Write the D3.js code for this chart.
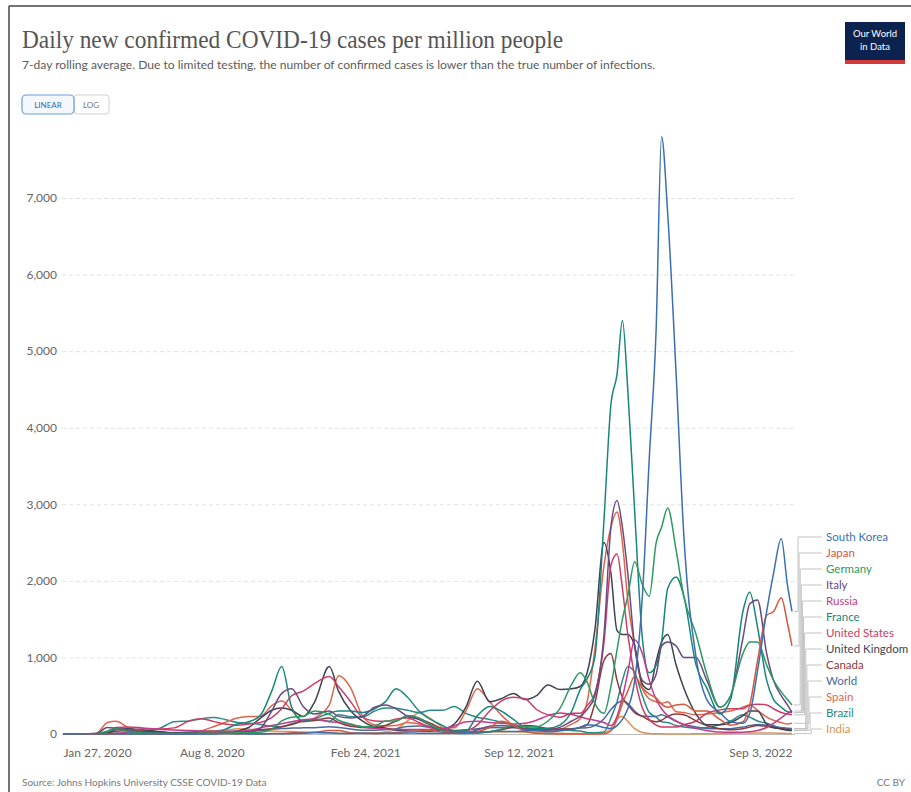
<!DOCTYPE html>
<html><head><meta charset="utf-8">
<script src="https://cdn.jsdelivr.net/npm/d3@7"></script>
<style>
html,body{margin:0;padding:0;background:#fff;}
svg{display:block;}
</style></head>
<body>
<svg id="chart" width="911" height="792"></svg>
<script>
const dates = [
"2020-01-27","2020-02-20","2020-03-10","2020-03-25","2020-04-05","2020-04-20","2020-05-10","2020-06-01","2020-06-20","2020-07-10","2020-07-25","2020-08-10","2020-08-25","2020-09-10","2020-09-25","2020-10-10","2020-10-25","2020-11-07","2020-11-20","2020-12-05","2020-12-20",
"2021-01-08","2021-01-20","2021-02-05","2021-02-20","2021-03-08","2021-03-22","2021-04-05","2021-04-20","2021-05-05","2021-05-20","2021-06-05","2021-06-20","2021-07-05","2021-07-20","2021-08-05","2021-08-20","2021-09-05","2021-09-20","2021-10-05","2021-10-20","2021-11-05","2021-11-20","2021-12-01","2021-12-10","2021-12-20",
"2022-01-01","2022-01-10","2022-01-18","2022-01-25","2022-02-01","2022-02-10","2022-02-20","2022-03-01","2022-03-10","2022-03-17","2022-03-25","2022-04-05","2022-04-15","2022-05-01","2022-05-15","2022-06-01","2022-06-15","2022-07-01","2022-07-10","2022-07-20","2022-08-01","2022-08-10","2022-08-20","2022-08-28","2022-09-03"];

const southKorea = [0,0.5,4.5,1.8,1.8,0.4,0.3,0.7,0.8,0.9,0.8,0.6,5,3,1.5,1.3,1.7,2,5,10,18,
 15,8,8,9,8,8.5,10,12,11,11,11,9,15,28,30,35,32,40,45,28,42,60,90,120,115,
 85,70,110,190,330,700,1800,3600,5300,7800,6800,4700,2600,1000,450,280,160,140,270,820,1600,2100,2550,1950,1600];
const japan = [0,0.1,0.3,0.5,2,3.5,1,0.3,0.5,2,6,9,7,4.5,4,4,5,7,15,17,22,
 45,45,18,9,8,10,18,30,40,45,22,12,15,30,85,165,115,35,10,3,1.5,1,1,1,1.5,
 4,40,190,400,560,750,600,520,470,390,350,380,390,300,300,190,115,160,380,950,1550,1600,1780,1450,1150];
const germany = [0,0,2,40,70,35,13,6,5,5,5,9,13,17,16,22,60,170,220,230,300,
 260,180,130,95,100,170,170,240,210,120,45,10,7,15,30,65,115,95,95,170,340,650,800,680,400,
 270,620,1100,1500,1800,2250,1950,1800,2500,2700,2950,2400,1800,1300,780,350,500,1050,1200,1200,900,700,550,450,380];
const italy = [0,0,5,85,75,55,20,6,4,3,4,6,15,23,25,75,300,530,590,360,260,
 300,230,210,230,350,380,330,230,190,110,40,20,15,55,100,110,95,70,55,55,90,170,230,320,500,
 1300,2700,3050,2700,2100,1150,700,650,780,1150,1200,1150,1000,1000,700,350,500,1250,1700,1750,1050,700,500,380,280];
const russia = [0,0,0,0.5,5,30,70,60,52,45,40,35,33,35,45,80,110,135,160,185,195,
 160,150,120,95,75,65,60,60,60,60,65,105,160,165,150,140,130,140,180,240,275,255,225,200,180,
 150,110,230,480,800,1230,1050,700,450,330,240,170,120,70,45,25,22,22,28,45,85,140,210,270,300];
const france = [0,0,5,30,70,50,15,6,8,8,10,25,60,130,160,240,560,880,350,170,200,
 270,300,300,280,330,420,590,480,300,190,110,40,40,240,360,300,190,90,70,75,120,300,580,720,1000,
 2800,4300,4700,5400,4500,2900,1250,800,900,1200,1900,2050,1800,900,600,260,450,1600,1850,1400,700,450,350,290,280];
const unitedStates = [0,0,0.3,30,85,90,80,65,80,175,200,165,130,115,130,150,215,330,500,560,660,
 750,620,420,220,170,165,195,210,150,90,45,35,40,120,300,430,480,460,320,250,220,270,270,370,530,
 1200,2200,2350,1900,1300,750,340,190,115,90,90,90,120,170,270,315,330,330,380,390,380,330,280,260,250];
const unitedKingdom = [0,0,1,10,60,70,55,30,15,9,10,12,17,40,85,205,310,340,310,230,420,
 880,560,300,170,95,80,50,38,35,35,60,130,350,690,420,460,530,450,500,640,580,590,620,800,1350,
 2500,2100,1350,1300,1300,1150,650,580,950,1200,1300,900,600,260,120,120,150,240,300,300,130,85,65,50,45];
const canada = [0,0,1,15,35,45,35,28,10,8,10,11,10,15,28,55,70,95,125,165,175,
 210,150,100,85,80,110,170,230,200,140,60,25,12,12,30,55,90,110,100,70,65,65,85,120,400,
 960,1050,700,480,380,280,230,180,160,180,230,260,250,170,110,70,55,70,90,110,100,80,70,60,50];
const world = [0,0.2,0.6,4,10,10.5,11,13,19,25,32,34,34,36,40,47,61,72,77,80,82,
 94,85,64,50,50,57,70,98,103,82,56,47,55,70,82,85,80,65,56,52,58,70,78,82,110,
 200,320,400,430,400,300,235,230,230,250,220,165,125,92,72,68,70,90,110,123,115,95,85,75,72];
const spain = [0,0,7,150,165,90,28,8,7,9,40,95,150,210,230,230,370,430,310,160,210,
 380,760,600,240,120,105,110,150,130,90,80,80,300,590,420,250,110,55,40,40,60,130,200,420,1100,
 2200,2700,2900,2500,1750,1150,600,460,420,400,420,290,280,250,260,280,300,350,380,310,220,180,150,130,140];
const brazil = [0,0,0,1,5,11,35,75,160,170,200,215,190,150,140,125,100,95,135,170,185,
 165,250,225,220,300,340,335,310,280,310,310,360,270,220,190,155,120,70,80,65,55,45,40,20,15,
 25,210,420,700,880,800,500,280,220,160,150,110,90,75,85,120,170,250,220,170,140,110,75,60,50];
const india = [0,0,0,0.05,0.4,1,2.6,5.6,10,18,32,44,47,68,62,53,38,33,32,26,18,
 13,10,9,9,12,27,60,170,275,200,85,42,32,28,30,26,30,23,16,11,9,7,6,6,5,
 12,80,200,230,165,70,20,8,4,2,1.2,0.9,0.8,2,2,3,7,12,13,14,14,12,9,7,5];

const seriesNames = ["South Korea","Japan","Germany","Italy","Russia","France","United States","United Kingdom","Canada","World","Spain","Brazil","India"];
const seriesValues = [southKorea,japan,germany,italy,russia,france,unitedStates,unitedKingdom,canada,world,spain,brazil,india];
const seriesColors = ["#3b6fb2","#d6573d","#2c9a62","#6a4a80","#c23b8c","#17877d","#cc3d64","#3d4352","#8a3a3a","#4c6a9c","#e0654e","#2e8a86","#d9955a"];

const yTicks = [0,1000,2000,3000,4000,5000,6000,7000];
const xTicks = ["2020-01-27","2020-08-08","2021-02-24","2021-09-12","2022-09-03"];

const parse = d3.timeParse("%Y-%m-%d");
const svg = d3.select("#chart");

// frame
svg.append("line").attr("x1",9).attr("x2",911).attr("y1",6).attr("y2",6).attr("stroke","#444").attr("stroke-width",1.5);
svg.append("line").attr("x1",9).attr("x2",9).attr("y1",6).attr("y2",792).attr("stroke","#444").attr("stroke-width",1.5);

// title
svg.append("text").attr("x",22).attr("y",48)
  .attr("font-family","'Liberation Serif','DejaVu Serif',serif").attr("font-size",26)
  .attr("fill","#555").attr("textLength",541).attr("lengthAdjust","spacingAndGlyphs")
  .text("Daily new confirmed COVID-19 cases per million people");
svg.append("text").attr("x",22).attr("y",69)
  .attr("font-family","Lato,sans-serif").attr("font-size",11).attr("fill","#5b5b5b")
  .attr("textLength",633).attr("lengthAdjust","spacingAndGlyphs")
  .text("7-day rolling average. Due to limited testing, the number of confirmed cases is lower than the true number of infections.");

// toggle
svg.append("rect").attr("x",74).attr("y",95).attr("width",35).attr("height",19).attr("rx",3)
  .attr("fill","#fff").attr("stroke","#d0d0d0");
svg.append("rect").attr("x",22).attr("y",95).attr("width",52).attr("height",19).attr("rx",4)
  .attr("fill","#f4f8fd").attr("stroke","#6a9fd8").attr("stroke-width",1.2);
svg.append("text").attr("x",48).attr("y",107.5).attr("text-anchor","middle")
  .attr("font-family","Lato,sans-serif").attr("font-size",8).attr("fill","#2e6bb5").text("LINEAR");
svg.append("text").attr("x",91).attr("y",107.5).attr("text-anchor","middle")
  .attr("font-family","Lato,sans-serif").attr("font-size",8).attr("fill","#777").text("LOG");

// logo
svg.append("rect").attr("x",845).attr("y",22).attr("width",60).attr("height",42).attr("fill","#0c2350");
svg.append("rect").attr("x",845).attr("y",60).attr("width",60).attr("height",4).attr("fill","#d43a3a");
svg.append("text").attr("x",875).attr("y",37).attr("text-anchor","middle").attr("font-family","Lato,sans-serif")
  .attr("font-size",9.5).attr("fill","#fff").text("Our World");
svg.append("text").attr("x",875).attr("y",50).attr("text-anchor","middle").attr("font-family","Lato,sans-serif")
  .attr("font-size",9.5).attr("fill","#fff").text("in Data");

// scales
const x = d3.scaleTime().domain([parse("2020-01-27"), parse("2022-09-03")]).range([63, 792]);
const y = d3.scaleLinear().domain([0, 7000]).range([734, 198]);

// y axis with grid
const yAxis = d3.axisLeft(y).tickValues(yTicks).tickFormat(d3.format(",")).tickSize(-(795-62)).tickPadding(5);
const gy = svg.append("g").attr("transform","translate(62,0)").call(yAxis);
gy.select(".domain").remove();
gy.selectAll(".tick line").attr("stroke","#e2e2e2").attr("stroke-dasharray","4,3");
gy.selectAll(".tick line").filter(d=>d===0).attr("stroke","#bbb").attr("stroke-dasharray",null);
gy.selectAll(".tick text").attr("font-family","Lato,sans-serif").attr("font-size",12).attr("fill","#666");

// x axis
const fmt = d3.timeFormat("%b %-d, %Y");
const xAxis = d3.axisBottom(x).tickValues(xTicks.map(parse)).tickFormat(fmt).tickSize(0).tickPadding(14);
const gx = svg.append("g").attr("transform","translate(0,734)").call(xAxis);
gx.select(".domain").remove();
gx.selectAll(".tick text").attr("font-family","Lato,sans-serif").attr("font-size",12).attr("fill","#666");
gx.selectAll(".tick text").filter((d,i)=>i===0).attr("text-anchor","start");
gx.selectAll(".tick text").filter((d,i,n)=>i===n.length-1).attr("text-anchor","end");

// lines
const line = d3.line().x(d=>x(d.date)).y(d=>y(d.value)).curve(d3.curveMonotoneX);
const parsedDates = dates.map(parse);
const series = seriesNames.map((name,i)=>({
  name, color: seriesColors[i],
  values: seriesValues[i].map((v,j)=>({date: parsedDates[j], value: v}))
}));
const drawOrder = series.slice().reverse();
svg.append("g").selectAll("path").data(drawOrder).join("path")
  .attr("d", d=>line(d.values)).attr("fill","none")
  .attr("stroke", d=>d.color).attr("stroke-width",1.5).attr("stroke-linejoin","round");

// legend labels with connectors
const lg = svg.append("g");
series.forEach((s,i)=>{
  const last = s.values[s.values.length-1];
  const y0 = y(last.value);
  const ly = 537 + i*16;
  const xm = 798 + i*1.1;
  lg.append("path").attr("d",`M${x(last.date)+2},${y0}H${xm}V${ly}H822`)
    .attr("fill","none").attr("stroke","#c4c4c4").attr("stroke-width",1);
  lg.append("text").attr("x",826).attr("y",ly).attr("dy","0.35em")
    .attr("font-family","Lato,sans-serif").attr("font-size",11.5).attr("fill",s.color).text(s.name);
});

// footer
svg.append("text").attr("x",22).attr("y",786).attr("font-family","Lato,sans-serif").attr("font-size",10)
  .attr("fill","#777").text("Source: Johns Hopkins University CSSE COVID-19 Data");
svg.append("text").attr("x",905).attr("y",786).attr("text-anchor","end").attr("font-family","Lato,sans-serif").attr("font-size",10)
  .attr("fill","#777").text("CC BY");
</script>
</body></html>
